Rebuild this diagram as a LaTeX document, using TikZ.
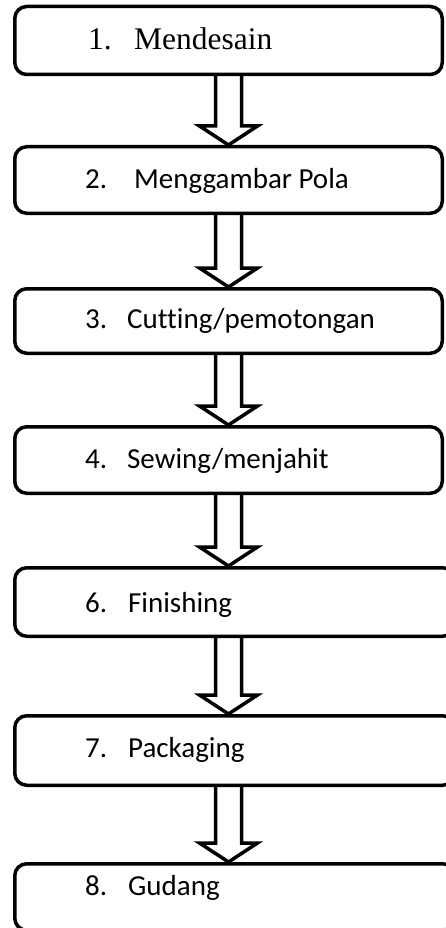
\documentclass[tikz,border=0pt]{standalone}
\usepackage{fontspec}
\setmainfont{Carlito}[Ligatures=NoCommon]
\newfontfamily\serifx{Liberation Serif}
\usetikzlibrary{calc}
\tikzset{
  stepbox/.style={draw, line width=3.5pt, rounded corners=12pt, inner sep=0pt, minimum width=#1},
  steptext/.style={anchor=base west, inner sep=0pt, font=\fontsize{29}{34}\selectfont},
  seriftext/.style={anchor=base west, inner sep=0pt, font=\serifx\fontsize{31.5}{36}\selectfont},
  arrowline/.style={draw, line width=3.5pt, line join=miter, miter limit=10}
}
\newcommand\flowarrow[2]{%
  \path[arrowline] let \p1=(axis |- #1.south), \p2=(axis |- #2.north) in
    (\x1-13pt,\y1) -- (\x1-13pt,\y2+19pt) -- (\x1-29pt,\y2+19pt) -- (\x1,\y2)
    -- (\x1+29pt,\y2+19pt) -- (\x1+13pt,\y2+19pt) -- (\x1+13pt,\y1);%
}
\begin{document}
\begin{tikzpicture}[x=1pt,y=-1pt]
\useasboundingbox (0,0) rectangle (446,928);
\coordinate (axis) at (228.5,0);
% boxes
\node[stepbox=427.5pt, minimum height=68pt]   (b1) at (228.5,40.5) {};
\node[stepbox=427.5pt, minimum height=66.5pt] (b2) at (228.5,180) {};
\node[stepbox=427.5pt, minimum height=64.5pt] (b3) at (228.5,321) {};
\node[stepbox=427.5pt, minimum height=66.5pt] (b4) at (228.5,460) {};
\node[stepbox=440pt, minimum height=68.5pt]   (b5) at (234.75,602) {};
\node[stepbox=440pt, minimum height=69.5pt]   (b6) at (234.75,750.5) {};
\node[stepbox=440pt, minimum height=66.5pt]   (b7) at (234.75,897) {};
% texts
\node[seriftext] (t1) at (88,50)  {\makebox[46pt][l]{1.}Mendesain};
\node[steptext]  (t2) at (85,189) {\makebox[49pt][l]{2.}Menggambar Pola};
\node[steptext]  (t3) at (85,328) {\makebox[42pt][l]{3.}Cutting/pemotongan};
\node[steptext]  (t4) at (85,468) {\makebox[42pt][l]{4.}Sewing/menjahit};
\node[steptext]  (t5) at (85,612) {\makebox[43pt][l]{6.}Finishing};
\node[steptext]  (t6) at (85,757) {\makebox[43pt][l]{7.}Packaging};
\node[steptext]  (t7) at (85,895) {\makebox[43pt][l]{8.}Gudang};
% arrows
\flowarrow{b1}{b2}
\flowarrow{b2}{b3}
\flowarrow{b3}{b4}
\flowarrow{b4}{b5}
\flowarrow{b5}{b6}
\flowarrow{b6}{b7}
\end{tikzpicture}
\end{document}
